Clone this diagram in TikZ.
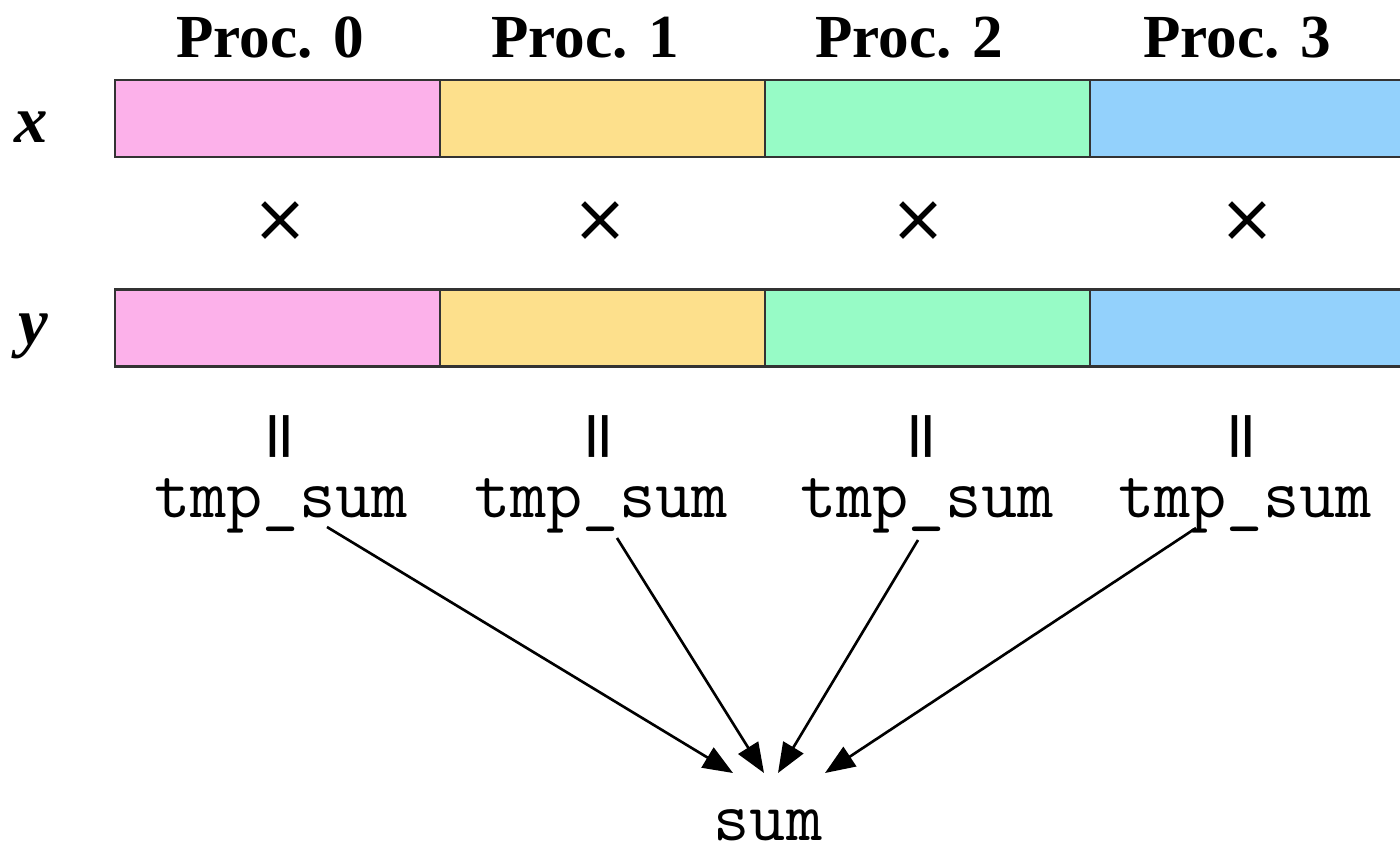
\documentclass[tikz,border=0pt]{standalone}
\usepackage{fontspec}
\setmainfont{Liberation Serif}
\newfontfamily\symfont{DejaVu Sans}
\usetikzlibrary{arrows.meta}
\definecolor{cpink}{HTML}{FCB1EA}
\definecolor{cyellow}{HTML}{FDE08C}
\definecolor{cgreen}{HTML}{97FBC6}
\definecolor{cblue}{HTML}{93D1FC}
\definecolor{edge}{HTML}{333333}
\tikzset{
  cell/.style={draw=edge, line width=0.6pt, inner sep=0pt,
    minimum width=3.25cm, minimum height=0.77cm},
  proc/.style={anchor=base, inner sep=0pt, font=\fontsize{17.4}{20}\selectfont\bfseries},
  vecname/.style={inner sep=0pt, font=\fontsize{19}{22}\selectfont\bfseries\itshape},
  times/.style={inner sep=0pt, font=\fontsize{19}{22}\symfont},
  eqsign/.style={inner sep=0pt, rotate=90, font=\fontsize{19}{22}\symfont},
  code/.style={anchor=base, inner sep=0pt, font=\fontsize{20}{24}\ttfamily},
  gather/.style={line width=0.75pt, -{Triangle[length=8.5pt,width=6.6pt]}}
}
\begin{document}
\begin{tikzpicture}[x=0.01cm, y=-0.01cm]
\useasboundingbox (0,0) rectangle (1400,852);

% processor headings
\node[proc] (p0) at (270,58) {Proc. 0};
\node[proc] (p1) at (585,58) {Proc. 1};
\node[proc] (p2) at (909,58) {Proc. 2};
\node[proc] (p3) at (1237,58) {Proc. 3};

% vector names
\node[vecname] (xl) at (31,127) {x};
\node[vecname] (yl) at (33,336) {y};

% distributed vectors x and y
\node[cell, fill=cpink]   (x0) at (277.5,118.5) {};
\node[cell, fill=cyellow] (x1) at (602.5,118.5) {};
\node[cell, fill=cgreen]  (x2) at (927.5,118.5) {};
\node[cell, fill=cblue]   (x3) at (1252.5,118.5) {};
\node[cell, fill=cpink]   (y0) at (277.5,328) {};
\node[cell, fill=cyellow] (y1) at (602.5,328) {};
\node[cell, fill=cgreen]  (y2) at (927.5,328) {};
\node[cell, fill=cblue]   (y3) at (1252.5,328) {};

% products
\node[times] (m0) at (280,222) {×};
\node[times] (m1) at (600,222) {×};
\node[times] (m2) at (918,222) {×};
\node[times] (m3) at (1247,222) {×};

\node[eqsign] (e0) at (285,437) {=};
\node[eqsign] (e1) at (604,437) {=};
\node[eqsign] (e2) at (927,437) {=};
\node[eqsign] (e3) at (1247,437) {=};

% partial sums
\node[code] (t0) at (281,518) {tmp\_sum};
\node[code] (t1) at (601,518) {tmp\_sum};
\node[code] (t2) at (927,518) {tmp\_sum};
\node[code] (t3) at (1245,518) {tmp\_sum};

\node[code] (s) at (768,840) {sum};

% reduction
\draw[gather] ([shift={(46,9)}]t0.base)  -- ([shift={(-35,-67)}]s.base);
\draw[gather] ([shift={(16,20)}]t1.base) -- ([shift={(-4,-67)}]s.base);
\draw[gather] ([shift={(-9,22)}]t2.base) -- ([shift={(10,-67)}]s.base);
\draw[gather] ([shift={(-49,10)}]t3.base) -- ([shift={(57,-67)}]s.base);
\end{tikzpicture}
\end{document}
